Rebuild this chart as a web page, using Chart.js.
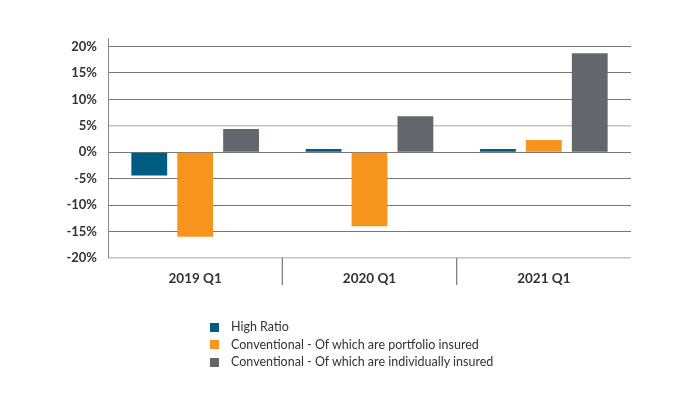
<!DOCTYPE html>
<html lang="en">
<head>
  <meta charset="UTF-8">
  <title>Arrears change by quarter</title>
  <script src="https://cdn.jsdelivr.net/npm/chart.js"></script>
  <style>
    body {
      margin: 0;
      padding: 0;
      background-color: #fff;
      font-family: Lato, "DejaVu Sans", sans-serif;
    }
    .wrap {
      position: relative;
      width: 700px;
      height: 394px;
    }
    #legend {
      position: absolute;
      left: 210px;
      top: 318px;
      margin: 0;
      padding: 0;
      list-style: none;
      font-size: 12.5px;
      color: #333;
    }
    #legend li {
      height: 17.5px;
      line-height: 17.5px;
      white-space: nowrap;
    }
    #legend span {
      display: inline-block;
      width: 9px;
      height: 9px;
      margin-right: 12px;
      vertical-align: -0.5px;
    }
  </style>
</head>
<body>
  <div class="wrap">
    <canvas id="grafico" width="700" height="394"></canvas>
    <ul id="legend"></ul>
  </div>

  <script>
    // data
    const categories = ['2019 Q1', '2020 Q1', '2021 Q1'];
    const seriesNames = [
      'High Ratio',
      'Conventional - Of which are portfolio insured',
      'Conventional - Of which are individually insured'
    ];
    const highRatio = [-4.4, 0.6, 0.6];
    const portfolio = [-16.0, -14.0, 2.3];
    const individual = [4.4, 6.8, 18.7];
    const yTicks = [-20, -15, -10, -5, 0, 5, 10, 15, 20];

    const colors = ['#005b82', '#f7941d', '#63666a'];
    const values = [highRatio, portfolio, individual];

    const datasets = seriesNames.map((name, i) => ({
      label: name,
      data: values[i],
      backgroundColor: colors[i],
      borderWidth: 0,
      barPercentage: 0.78,
      categoryPercentage: 0.79
    }));

    // short separators under the axis, only between categories
    const separators = {
      id: 'separators',
      afterDatasetsDraw(chart) {
        const x = chart.scales.x;
        const area = chart.chartArea;
        const c = chart.ctx;
        c.save();
        c.strokeStyle = '#777';
        c.lineWidth = 1.2;
        for (let i = 1; i < categories.length; i++) {
          const px = (x.getPixelForTick(i - 1) + x.getPixelForTick(i)) / 2;
          c.beginPath();
          c.moveTo(px, area.bottom);
          c.lineTo(px, area.bottom + 27);
          c.stroke();
        }
        c.restore();
      }
    };

    const ctx = document.getElementById('grafico').getContext('2d');
    const chart = new Chart(ctx, {
      type: 'bar',
      data: { labels: categories, datasets: datasets },
      plugins: [separators],
      options: {
        responsive: false,
        animation: false,
        layout: { padding: { left: 0, right: 69, top: 38, bottom: 106 } },
        plugins: { legend: { display: false }, tooltip: { enabled: false } },
        scales: {
          x: {
            afterFit: s => { s.height = 30; },
            border: { display: false },
            grid: { display: false },
            ticks: {
              padding: 5,
              color: '#333',
              font: { family: 'Lato', size: 13.5, weight: 'bold' }
            }
          },
          y: {
            min: -20,
            max: 21.6,
            afterFit: s => { s.width = 108; },
            afterBuildTicks: s => { s.ticks = yTicks.map(v => ({ value: v })); },
            border: { display: true, color: '#888', width: 1 },
            grid: {
              drawTicks: false,
              lineWidth: c => (c.tick && (c.tick.value === 5 || c.tick.value === -20)) ? 1.5 : 1,
              color: c => (c.tick && (c.tick.value === 5 || c.tick.value === -20)) ? '#c4c4c4' : '#777'
            },
            ticks: {
              padding: 11,
              color: '#333',
              font: { family: 'Lato', size: 13, weight: 'bold' },
              callback: v => v + '%'
            }
          }
        }
      }
    });

    // html legend, one item per line
    const legendEl = document.getElementById('legend');
    chart.data.datasets.forEach(ds => {
      const li = document.createElement('li');
      const box = document.createElement('span');
      box.style.backgroundColor = ds.backgroundColor;
      li.appendChild(box);
      li.appendChild(document.createTextNode(ds.label));
      legendEl.appendChild(li);
    });
  </script>
</body>
</html>
